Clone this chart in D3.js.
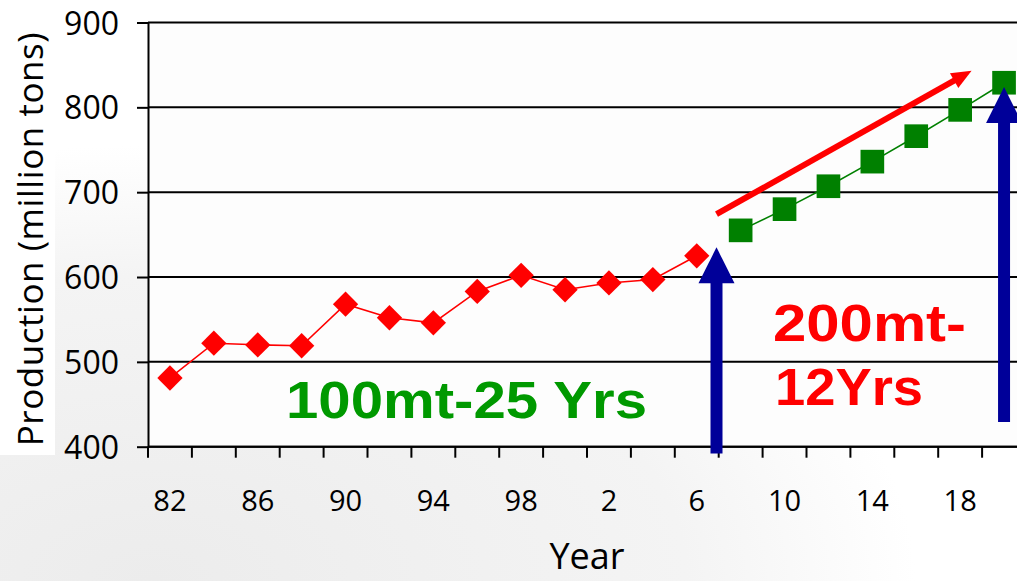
<!DOCTYPE html>
<html>
<head>
<meta charset="utf-8">
<script src="https://cdn.jsdelivr.net/npm/d3@7"></script>
<style>
  html, body { margin: 0; padding: 0; background: #fff; }
  svg { display: block; overflow: hidden; }
</style>
</head>
<body>
<div id="chart"></div>
<script>
// Categories: every second year, 1982 to 2020
const years = ['82', '84', '86', '88', '90', '92', '94', '96', '98', '0',
  '2', '4', '6', '8', '10', '12', '14', '16', '18', '20'];
const labelledYears = ['82', '86', '90', '94', '98', '2', '6', '10', '14', '18'];

// Actual production 1982-2006 (red) and projection 2008-2020 (green)
const actualYears = ['82', '84', '86', '88', '90', '92', '94', '96', '98', '0', '2', '4', '6'];
const actualValues = [481, 522, 520, 519, 568, 552, 546, 583, 602, 585, 593, 597, 625];
const projYears = ['8', '10', '12', '14', '16', '18', '20'];
const projValues = [655, 680, 707, 736, 766, 797, 829];

const yTicks = [400, 500, 600, 700, 800, 900];

// Annotation arrows in data units: [category position, production]
const trendArrow = [[12.45, 674], [18.26, 843]];
const gainArrows = [
  [[12.45, 392], [12.45, 635]],
  [[19.0, 429], [19.0, 824]]
];

const W = 1017, H = 581;
const margin = { left: 148, top: 22.5, bottom: 134.3 };
const step = 43.9;

const svg = d3.select('#chart').append('svg')
  .attr('width', W)
  .attr('height', H);

const defs = svg.append('defs');
const bg = defs.append('radialGradient')
  .attr('id', 'bgGrad')
  .attr('cx', 0.15).attr('cy', 1.0).attr('r', 0.75);
bg.append('stop').attr('offset', '0%').attr('stop-color', '#ececec');
bg.append('stop').attr('offset', '70%').attr('stop-color', '#f4f4f4');
bg.append('stop').attr('offset', '100%').attr('stop-color', '#ffffff');

svg.append('rect')
  .attr('width', W).attr('height', H)
  .style('fill', 'url(#bgGrad)');

const x = d3.scaleBand()
  .domain(years)
  .range([margin.left, margin.left + step * years.length])
  .padding(0);

const y = d3.scaleLinear()
  .domain([400, 900])
  .range([H - margin.bottom, margin.top]);

// position along the category axis, in band units (0 = centre of first band)
const xPos = v => margin.left + x.step() * (v + 0.5);

// plot area stays white-ish over the background
svg.append('rect')
  .attr('x', margin.left)
  .attr('y', y(900))
  .attr('width', W - margin.left)
  .attr('height', y(400) - y(900))
  .style('fill', '#fdfdfd');

// white box behind the y title
svg.append('rect')
  .attr('x', 0).attr('y', 0)
  .attr('width', 55).attr('height', 455)
  .style('fill', '#fff');

// gridlines
svg.append('g')
  .selectAll('line')
  .data(yTicks)
  .join('line')
  .attr('x1', margin.left)
  .attr('x2', W)
  .attr('y1', d => y(d))
  .attr('y2', d => y(d))
  .style('stroke', '#000')
  .style('stroke-width', 2);

// y axis
const yAxis = svg.append('g')
  .attr('transform', `translate(${margin.left},0)`)
  .call(d3.axisLeft(y).tickValues(yTicks).tickSize(11).tickSizeOuter(0).tickPadding(18));
yAxis.select('.domain').style('stroke-width', 2);
yAxis.selectAll('line').style('stroke-width', 2);
yAxis.selectAll('text')
  .style('font-family', '"Open Sans", sans-serif')
  .style('font-size', '32px')
  .attr('dy', '0.36em')
  .style('fill', '#000');

// x axis: ticks on the band boundaries, labels on every second band
const bounds = d3.range(years.length + 1).map(i => margin.left + i * x.step());
const xAxis = svg.append('g').attr('transform', `translate(0,${y(400)})`);
xAxis.append('line')
  .attr('x1', margin.left).attr('x2', W)
  .style('stroke', '#000').style('stroke-width', 2);
xAxis.selectAll('.tick')
  .data(bounds)
  .join('line')
  .attr('class', 'tick')
  .attr('x1', d => d).attr('x2', d => d)
  .attr('y1', 0).attr('y2', 11)
  .style('stroke', '#000').style('stroke-width', 2);
xAxis.selectAll('.lbl')
  .data(labelledYears)
  .join('text')
  .attr('class', 'lbl')
  .attr('x', d => x(d) + x.bandwidth() / 2)
  .attr('y', 64)
  .attr('text-anchor', 'middle')
  .style('font-family', '"Open Sans", sans-serif')
  .style('font-size', '29px')
  .text(d => d);

// axis titles
svg.append('text')
  .attr('transform', `translate(43,${(y(400) + 32) / 2}) rotate(-90)`)
  .attr('text-anchor', 'middle')
  .attr('textLength', 414)
  .attr('lengthAdjust', 'spacing')
  .style('font-family', '"Open Sans", sans-serif')
  .style('font-size', '35px')
  .text('Production (million tons)');

svg.append('text')
  .attr('x', 587)
  .attr('y', 569)
  .attr('text-anchor', 'middle')
  .style('font-family', '"Open Sans", sans-serif')
  .style('font-size', '36px')
  .text('Year');

// series
const cx = d => x(d) + x.bandwidth() / 2;
const actual = actualYears.map((d, i) => [d, actualValues[i]]);
const proj = projYears.map((d, i) => [d, projValues[i]]);
const line = d3.line().x(d => cx(d[0])).y(d => y(d[1]));

svg.append('path')
  .datum(actual)
  .attr('d', line)
  .style('fill', 'none')
  .style('stroke', '#ff0000')
  .style('stroke-width', 1.6);

svg.append('path')
  .datum(proj)
  .attr('d', line)
  .style('fill', 'none')
  .style('stroke', '#008000')
  .style('stroke-width', 1.6);

svg.append('g')
  .selectAll('path')
  .data(actual)
  .join('path')
  .attr('d', d3.symbol(d3.symbolSquare, 320))
  .attr('transform', d => `translate(${cx(d[0])},${y(d[1])}) rotate(45)`)
  .style('fill', '#ff0000');

svg.append('g')
  .selectAll('path')
  .data(proj)
  .join('path')
  .attr('d', d3.symbol(d3.symbolSquare, 560))
  .attr('transform', d => `translate(${cx(d[0])},${y(d[1])})`)
  .style('fill', '#008000');

// arrow helper: draws a shaft plus triangular head between two pixel points
function arrow(p0, p1, shaft, headW, headL, color) {
  const dx = p1[0] - p0[0], dy = p1[1] - p0[1];
  const len = Math.hypot(dx, dy);
  const ux = dx / len, uy = dy / len;
  const nx = -uy, ny = ux;
  const bx = p1[0] - ux * headL, by = p1[1] - uy * headL;
  svg.append('line')
    .attr('x1', p0[0]).attr('y1', p0[1])
    .attr('x2', bx + ux).attr('y2', by + uy)
    .style('stroke', color)
    .style('stroke-width', shaft);
  svg.append('path')
    .attr('d', `M${p1[0]},${p1[1]} L${bx + nx * headW / 2},${by + ny * headW / 2} L${bx - nx * headW / 2},${by - ny * headW / 2} Z`)
    .style('fill', color);
}

const px = p => [xPos(p[0]), y(p[1])];

arrow(px(trendArrow[0]), px(trendArrow[1]), 6, 17, 20, '#ff0000');
gainArrows.forEach(a => arrow(px(a[0]), px(a[1]), 12, 36, 36, '#000099'));

// text annotations
const big = (t, xs, ys, len, color) => svg.append('text')
  .attr('x', xs).attr('y', ys)
  .attr('textLength', len)
  .attr('lengthAdjust', 'spacingAndGlyphs')
  .style('font-family', '"Liberation Sans", Arial, sans-serif')
  .style('font-weight', 'bold')
  .style('font-size', '52px')
  .style('fill', color)
  .text(t);

big('100mt-25 Yrs', 286, 418, 361, '#009900');
big('200mt-', 773, 341, 193, '#ff0000');
big('12Yrs', 775, 405, 148, '#ff0000');
</script>
</body>
</html>
